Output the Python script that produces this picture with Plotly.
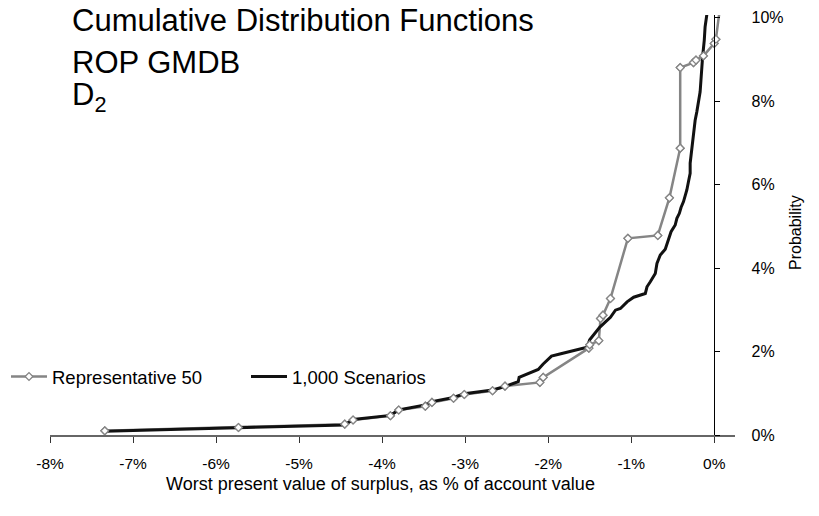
import plotly.graph_objects as go

# ---------------- data (percent units) ----------------
rep_x = [-7.34, -5.73, -4.45, -4.35, -3.90, -3.80, -3.48, -3.40, -3.14, -3.01,
         -2.67, -2.52, -2.10, -2.06, -1.51, -1.50, -1.39, -1.37, -1.34, -1.25,
         -1.04, -0.68, -0.54, -0.41, -0.41, -0.25, -0.22, -0.13, 0.00, 0.02, 0.07]
rep_y = [0.10, 0.18, 0.26, 0.36, 0.46, 0.60, 0.69, 0.78, 0.88, 0.97,
         1.06, 1.17, 1.26, 1.38, 2.08, 2.16, 2.26, 2.79, 2.87, 3.27,
         4.71, 4.78, 5.68, 6.87, 8.80, 8.92, 8.98, 9.08, 9.38, 9.48, 10.25]

scen_x = [-7.34, -5.73, -4.45, -4.35, -3.90, -3.80, -3.48, -3.40, -3.14, -3.01,
          -2.67, -2.52, -2.36, -2.35, -2.12, -2.06, -1.96, -1.86, -1.70, -1.53,
          -1.50, -1.45, -1.38, -1.31, -1.25, -1.19, -1.13, -1.05, -0.97, -0.83,
          -0.81, -0.77, -0.71, -0.69, -0.65, -0.59, -0.54, -0.52, -0.47, -0.45,
          -0.42, -0.40, -0.37, -0.35, -0.33, -0.31, -0.29, -0.29, -0.28, -0.27,
          -0.26, -0.24, -0.23, -0.21, -0.19, -0.17, -0.16, -0.15, -0.14, -0.12,
          -0.11, -0.09, -0.085]
scen_y = [0.09, 0.17, 0.24, 0.37, 0.47, 0.60, 0.72, 0.80, 0.90, 0.99,
          1.08, 1.16, 1.28, 1.38, 1.57, 1.70, 1.89, 1.94, 2.01, 2.10,
          2.28, 2.40, 2.58, 2.71, 2.82, 2.99, 3.03, 3.19, 3.30, 3.39,
          3.55, 3.67, 3.87, 4.11, 4.31, 4.45, 4.75, 4.87, 5.03, 5.19,
          5.31, 5.45, 5.59, 5.71, 5.87, 6.07, 6.27, 6.51, 6.67, 6.87,
          7.11, 7.30, 7.54, 7.74, 7.94, 8.22, 8.50, 8.82, 9.06, 9.46,
          9.78, 10.06, 10.25]

x_tick_vals = [-8, -7, -6, -5, -4, -3, -2, -1, 0]
x_tick_text = ["-8%", "-7%", "-6%", "-5%", "-4%", "-3%", "-2%", "-1%", "0%"]
y_tick_vals = [0, 2, 4, 6, 8, 10]
y_tick_text = ["0%", "2%", "4%", "6%", "8%", "10%"]

series_names = ["Representative 50", "1,000 Scenarios"]
title_lines = ["Cumulative Distribution Functions", "ROP GMDB", "D<sub>2</sub>"]
x_title = "Worst present value of surplus, as % of account value"
y_title = "Probability"

# ---------------- layout geometry ----------------
W, H = 819, 516
ML, MR, MT, MB = 50, 84, 15, 81
X_RANGE = [-8, 0.25]
Y_RANGE = [0, 10.06]
FONT = "Arial, 'Liberation Sans', sans-serif"
GRAY = "#858585"

pw = W - ML - MR
ph = H - MT - MB


def px_x(px):
    return (px - ML) / pw


def px_y(py):
    return (H - MB - py) / ph


yaxis_pos = (0 - X_RANGE[0]) / (X_RANGE[1] - X_RANGE[0])

fig = go.Figure()

fig.add_trace(go.Scatter(
    x=rep_x, y=rep_y, mode="lines+markers", name=series_names[0],
    legend="legend",
    line=dict(color=GRAY, width=2.5),
    marker=dict(symbol="diamond", size=6, color="white",
                line=dict(color=GRAY, width=1.3)),
))
fig.add_trace(go.Scatter(
    x=scen_x, y=scen_y, mode="lines", name=series_names[1],
    legend="legend2",
    line=dict(color="#111111", width=3),
))
fig.add_trace(go.Scatter(
    x=rep_x, y=rep_y, mode="markers", showlegend=False, hoverinfo="skip",
    marker=dict(symbol="diamond", size=6, color="white",
                line=dict(color=GRAY, width=1.3)),
))

annotations = []
title_y = [21, 62, 97]
for txt, ty in zip(title_lines, title_y):
    annotations.append(dict(
        text=txt, xref="paper", yref="paper", x=px_x(70), y=px_y(ty),
        xanchor="left", yanchor="middle", showarrow=False,
        font=dict(family=FONT, size=31, color="black")))
annotations.append(dict(
    text=x_title, xref="paper", yref="paper", x=px_x(380), y=px_y(484),
    xanchor="center", yanchor="middle", showarrow=False,
    font=dict(family=FONT, size=18, color="black")))
annotations.append(dict(
    text=y_title, xref="paper", yref="paper", x=px_x(796), y=px_y(233),
    xanchor="center", yanchor="middle", showarrow=False, textangle=-90,
    font=dict(family=FONT, size=16, color="black")))

legend_common = dict(orientation="h", xanchor="left", yanchor="middle",
                     bgcolor="rgba(0,0,0,0)", font=dict(family=FONT, size=18.5),
                     itemwidth=36)

fig.update_layout(
    width=W, height=H,
    margin=dict(l=ML, r=MR, t=MT, b=MB, pad=0, autoexpand=False),
    paper_bgcolor="white", plot_bgcolor="white",
    font=dict(family=FONT, color="black"),
    showlegend=True,
    legend=dict(x=px_x(6), y=px_y(377), **legend_common),
    legend2=dict(x=px_x(246), y=px_y(377), **legend_common),
    annotations=annotations,
    xaxis=dict(range=X_RANGE, tickvals=x_tick_vals, ticktext=x_tick_text,
               showgrid=False, zeroline=False, showline=True,
               linecolor="#666666", linewidth=1.5, ticks="outside",
               ticklen=6, tickcolor="#333333", tickwidth=1.2,
               tickfont=dict(family=FONT, size=15.5, color="black"),
               ticklabelstandoff=8),
    yaxis=dict(range=Y_RANGE, tickvals=y_tick_vals, ticktext=y_tick_text,
               anchor="free", position=yaxis_pos, side="right",
               showgrid=False, zeroline=False, showline=True,
               linecolor="black", linewidth=1.2, ticks="outside",
               ticklen=5, tickcolor="black", tickwidth=1.2,
               tickfont=dict(family=FONT, size=16, color="black"),
               ticklabelstandoff=28),
)

fig.write_html("out.html")
